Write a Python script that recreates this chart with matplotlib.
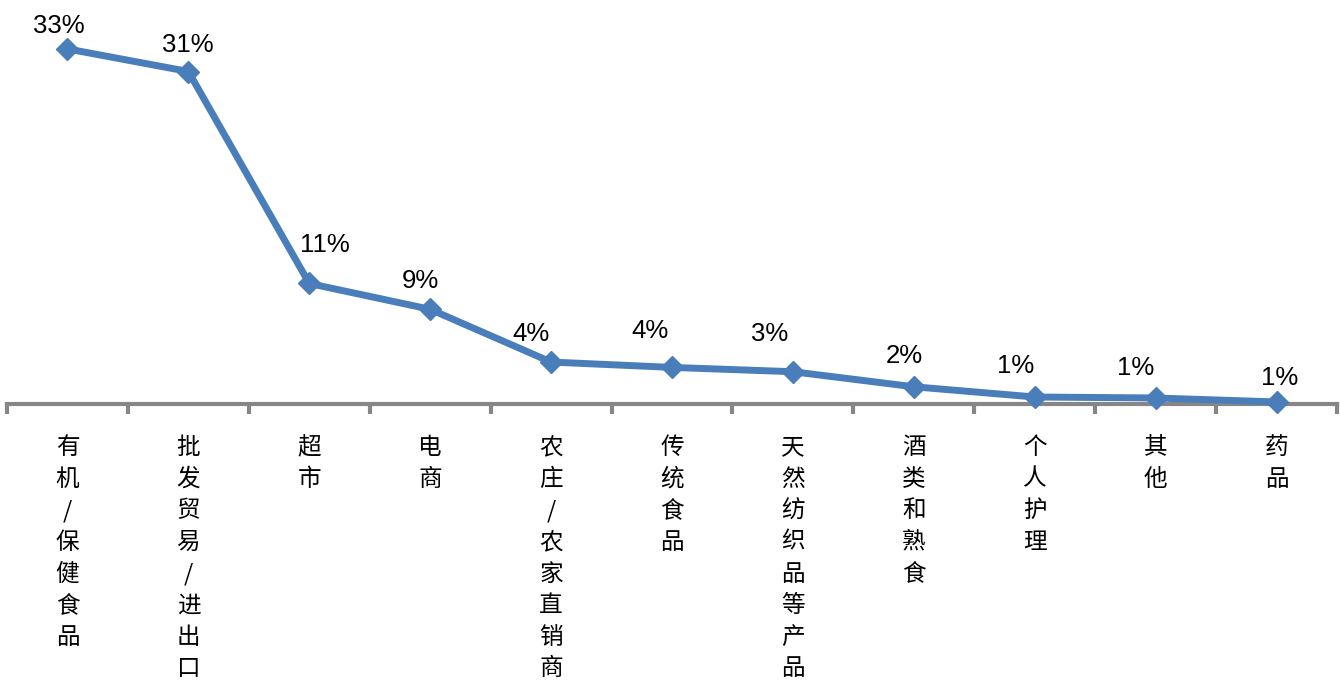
from matplotlib import pyplot as plt
import numpy as np

categories = ['有机/保健食品', '批发贸易/进出口', '超市', '电商', '农庄/农家直销商', '传统食品',
              '天然纺织品等产品', '酒类和熟食', '个人护理', '其他', '药品']
values = [33.0, 30.9, 11.2, 8.8, 3.9, 3.4, 3.0, 1.6, 0.65, 0.56, 0.19]
value_labels = ['33%', '31%', '11%', '9%', '4%', '4%', '3%', '2%', '1%', '1%', '1%']

# label placement as in the source (pixels: dx from point, baseline height above point)
label_dx = [-9, -1, 16, -10, -20, -22, -23, -10, -19, -20, 3]
label_dy = [16, 20, 31, 21, 21, 29, 31, 24, 24, 23, 17]

line_color = '#4a7ebb'
axis_color = '#868686'
px = 72 / 100  # points per pixel at dpi=100

fig = plt.figure(figsize=(13.4, 6.86), dpi=100)
ax = fig.add_axes([7 / 1340, (686 - 404) / 686, 1330 / 1340, 376.6 / 686])

x = np.arange(len(categories))
ax.plot(x, values, color=line_color, linewidth=5, marker='D', markersize=11,
        solid_joinstyle='round', clip_on=False, zorder=3)

for xi, v, lab, dx, dy in zip(x, values, value_labels, label_dx, label_dy):
    ax.annotate(lab, (xi, v), xytext=(dx * px, dy * px), textcoords='offset points',
                ha='center', va='baseline', fontsize=18.5, family='Liberation Sans')

ax.set_xlim(-0.5, len(categories) - 0.5)
ax.set_ylim(0, 35)

for s in ['top', 'right', 'left']:
    ax.spines[s].set_visible(False)
ax.spines['bottom'].set_color(axis_color)
ax.spines['bottom'].set_linewidth(3)
ax.set_yticks([])

ax.set_xticks(np.arange(-0.5, len(categories)))
ax.set_xticklabels([])
ax.tick_params(axis='x', length=7.5, width=3, color=axis_color, direction='out')

for xi, cat in zip(x, categories):
    ax.annotate('\n'.join(cat), (xi, 0), xytext=(0, -32 * px), textcoords='offset points',
                ha='center', va='top', fontsize=17, linespacing=1.48,
                family=['Noto Sans CJK SC', 'DejaVu Sans'])

fig.savefig('out.png', dpi=100)
